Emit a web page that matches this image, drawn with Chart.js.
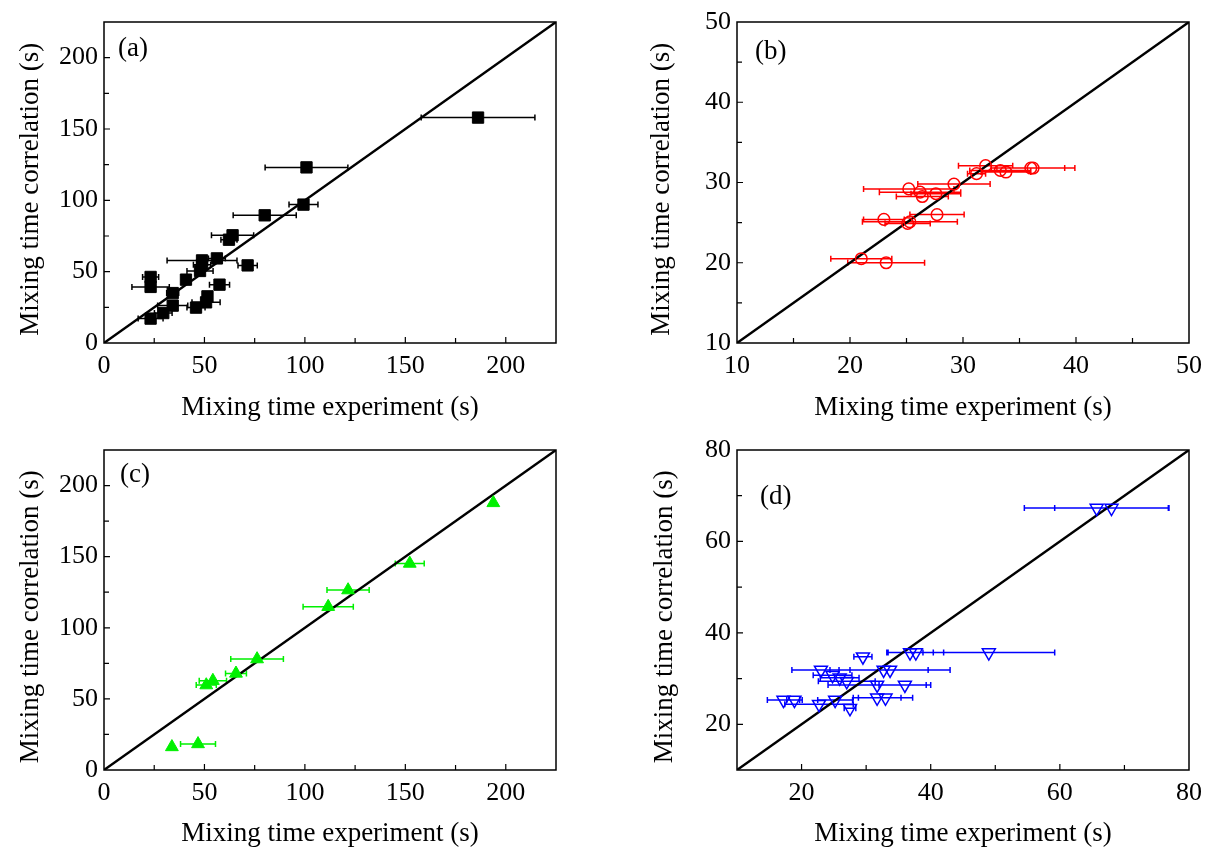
<!DOCTYPE html>
<html>
<head>
<meta charset="utf-8">
<script src="https://cdn.jsdelivr.net/npm/chart.js@4.4.1/dist/chart.umd.min.js"></script>
<style>
html,body{margin:0;padding:0;background:#fff;width:1211px;height:850px;overflow:hidden}
canvas{position:absolute}
</style>
</head>
<body>
<canvas id="ca" width="605" height="425" style="left:0;top:0;width:605px;height:425px"></canvas>
<canvas id="cb" width="606" height="425" style="left:605px;top:0;width:606px;height:425px"></canvas>
<canvas id="cc" width="605" height="425" style="left:0;top:425px;width:605px;height:425px"></canvas>
<canvas id="cd" width="606" height="425" style="left:605px;top:425px;width:606px;height:425px"></canvas>
<script>
// ---- data: panel (a)
const aX   = [186.2, 100.8, 99.3, 80.0, 64.0, 62.2, 56.2, 48.8, 48.8, 47.8, 71.5, 40.8, 23.2, 23.2, 34.2, 57.5, 51.5, 50.8, 45.8, 34.2, 29.5, 23.2];
const aY   = [158.0, 123.1, 97.0, 89.5, 75.5, 72.4, 59.3, 57.9, 54.9, 50.5, 54.4, 44.4, 46.3, 39.3, 35.0, 40.9, 32.7, 28.5, 24.8, 26.2, 21.0, 17.1];
const aErr = [28.3, 20.6, 7.2, 15.7, 10.5, 4.0, 4.2, 17.4, 4.3, 6.5, 4.8, 0, 4.0, 9.3, 3.0, 5.0, 0, 7.0, 4.5, 7.5, 4.4, 6.2];
// ---- data: panel (b)
const bX   = [32.0, 31.2, 33.3, 33.8, 36.0, 36.2, 29.2, 25.2, 26.2, 26.4, 27.6, 27.7, 23.0, 25.3, 25.1, 21.0, 23.2];
const bY   = [32.1, 31.1, 31.5, 31.3, 31.8, 31.8, 29.8, 29.2, 28.8, 28.25, 28.6, 26.0, 25.4, 25.1, 24.9, 20.5, 20.0];
const bErr = [2.4, 0.8, 2.7, 2.2, 3.0, 3.7, 3.2, 4.0, 3.6, 2.3, 2.2, 2.4, 1.8, 4.2, 2.0, 2.7, 3.4];
// ---- data: panel (c)
const cX   = [193.8, 152.2, 121.5, 111.6, 76.2, 65.7, 54.2, 50.9, 33.8, 46.8];
const cY   = [187.8, 145.2, 126.5, 114.8, 78.0, 67.9, 62.8, 59.7, 16.2, 18.3];
const cErr = [0, 7.2, 10.5, 12.5, 13.1, 5.2, 6.8, 5.0, 0, 8.7];
// ---- data: panel (d)
const dX   = [65.7, 68.0, 36.8, 37.7, 49.0, 29.5, 23.0, 32.7, 33.7, 24.8, 25.9, 27.0, 31.7, 36.0, 17.2, 18.9, 22.7, 25.2, 27.5, 31.7, 33.0];
const dY   = [67.3, 67.3, 35.7, 35.7, 35.7, 34.8, 31.9, 31.9, 31.9, 30.7, 30.2, 29.4, 28.6, 28.6, 25.3, 25.3, 24.4, 25.3, 23.5, 25.8, 25.8];
const dErr = [11.2, 8.8, 3.6, 4.3, 10.2, 1.4, 4.5, 6.9, 9.3, 3.0, 3.0, 4.4, 7.6, 4.0, 2.5, 1.2, 5.3, 2.7, 0.9, 3.7, 4.2];
// ---- axis ranges / ticks
const aRange = [0, 225], aStep = 25, aMajor = 50;
const bRange = [10, 50], bStep = 5,  bMajor = 10;
const cRange = [0, 225], cStep = 25, cMajor = 50;
const dRange = [10, 80], dStep = 10, dMajor = 20;
const panelLabels = ['(a)', '(b)', '(c)', '(d)'];
const xTitle = 'Mixing time experiment (s)';
const yTitle = 'Mixing time correlation (s)  ';

const FONT = "'Liberation Serif','Times New Roman',serif";
Chart.defaults.font.family = FONT;
Chart.defaults.color = '#000';

const errorBars = {
  id: 'errorBars',
  beforeDatasetsDraw(chart, args, o) {
    const {ctx, scales: {x, y}} = chart;
    const ds = chart.data.datasets[0];
    ctx.save();
    ctx.strokeStyle = o.color; ctx.lineWidth = 1.5;
    ctx.beginPath();
    o.err.forEach((e, i) => {
      if (!e) return;
      const p = ds.data[i];
      const py = y.getPixelForValue(p.y);
      const x1 = x.getPixelForValue(p.x - e), x2 = x.getPixelForValue(p.x + e);
      ctx.moveTo(x1, py); ctx.lineTo(x2, py);
      ctx.moveTo(x1, py - 3); ctx.lineTo(x1, py + 3);
      ctx.moveTo(x2, py - 3); ctx.lineTo(x2, py + 3);
    });
    ctx.stroke();
    ctx.restore();
  }
};

const frame = {
  id: 'frame',
  afterDraw(chart, args, o) {
    const {ctx, chartArea: a, scales: {x, y}} = chart;
    ctx.save();
    ctx.strokeStyle = '#000';
    ctx.lineWidth = 1.2;
    ctx.beginPath();
    x.ticks.forEach(t => {
      const px = x.getPixelForValue(t.value);
      if (px <= a.left + 1 || px >= a.right - 1) return;
      const len = t.label ? 6 : 5;
      ctx.moveTo(px, a.bottom); ctx.lineTo(px, a.bottom - len);
    });
    y.ticks.forEach(t => {
      const py = y.getPixelForValue(t.value);
      if (py <= a.top + 1 || py >= a.bottom - 1) return;
      const len = t.label ? 6 : 5;
      ctx.moveTo(a.left, py); ctx.lineTo(a.left + len, py);
    });
    ctx.stroke();
    ctx.lineWidth = 1.5;
    ctx.strokeRect(a.left, a.top, a.right - a.left, a.bottom - a.top);
    ctx.fillStyle = '#000';
    ctx.font = o.size + 'px ' + FONT;
    ctx.textAlign = 'left'; ctx.textBaseline = 'middle';
    ctx.fillText(o.text, a.left + o.dx, a.top + o.dy);
    ctx.restore();
  }
};

function panel(id, xs, ys, errs, range, step, major, mk, lay, lbl) {
  const pts = xs.map((v, i) => ({x: v, y: ys[i]}));
  const axisTicks = {
    stepSize: step, autoSkip: false, maxRotation: 0,
    font: {size: 26},
    callback: v => (v % major === 0 ? String(v) : '')
  };
  new Chart(document.getElementById(id), {
    type: 'scatter',
    data: {
      datasets: [
        {
          type: 'scatter', data: pts,
          pointStyle: mk.style, pointRadius: mk.r, pointRotation: mk.rot || 0,
          backgroundColor: mk.fill, borderColor: mk.color, borderWidth: mk.bw
        },
        {
          type: 'line', data: [{x: range[0], y: range[0]}, {x: range[1], y: range[1]}],
          borderColor: '#000', borderWidth: 2.4, pointRadius: 0, fill: false, tension: 0
        }
      ]
    },
    options: {
      responsive: false, animation: false, events: [],
      layout: {padding: {left: 0, top: lay.top, right: lay.right, bottom: 0}},
      plugins: {
        legend: {display: false}, tooltip: {enabled: false},
        errorBars: {err: errs, color: mk.color},
        frame: {text: lbl.text, dx: lbl.dx, dy: lbl.dy, size: 27}
      },
      scales: {
        x: {
          type: 'linear', position: 'bottom', min: range[0], max: range[1],
          grid: {display: false, drawTicks: false}, border: {display: false},
          ticks: Object.assign({}, axisTicks, {padding: 8}),
          title: {display: true, text: xTitle, font: {size: 27}, padding: {top: 0, bottom: lay.xtp}},
          afterFit: s => { s.height = lay.xh; }
        },
        y: {
          type: 'linear', position: 'left', min: range[0], max: range[1],
          grid: {display: false, drawTicks: false}, border: {display: false},
          ticks: Object.assign({}, axisTicks, {padding: 6}),
          title: {display: true, text: yTitle, font: {size: 27}, padding: {top: lay.ytp, bottom: 0}},
          afterFit: s => { s.width = lay.yw; }
        }
      }
    },
    plugins: [errorBars, frame]
  });
}

panel('ca', aX, aY, aErr, aRange, aStep, aMajor,
  {style: 'rect', r: 8.0, fill: '#000', color: '#000', bw: 1},
  {top: 22, right: 49, xh: 82, yw: 104, xtp: 1, ytp: 15},
  {text: panelLabels[0], dx: 14, dy: 27});
panel('cb', bX, bY, bErr, bRange, bStep, bMajor,
  {style: 'circle', r: 5.8, fill: 'rgba(255,255,255,0)', color: '#ff0000', bw: 1.5},
  {top: 22, right: 22, xh: 82, yw: 132, xtp: 1, ytp: 41},
  {text: panelLabels[1], dx: 18, dy: 30});
panel('cc', cX, cY, cErr, cRange, cStep, cMajor,
  {style: 'triangle', r: 7.4, fill: '#00f000', color: '#00f000', bw: 1},
  {top: 25, right: 49, xh: 80, yw: 104, xtp: 0, ytp: 15},
  {text: panelLabels[2], dx: 16, dy: 25});
panel('cd', dX, dY, dErr, dRange, dStep, dMajor,
  {style: 'triangle', r: 7.5, rot: 180, fill: 'rgba(255,255,255,0)', color: '#0000ff', bw: 1.5},
  {top: 25, right: 22, xh: 80, yw: 132, xtp: 0, ytp: 44},
  {text: panelLabels[3], dx: 23, dy: 47});
</script>
</body>
</html>
